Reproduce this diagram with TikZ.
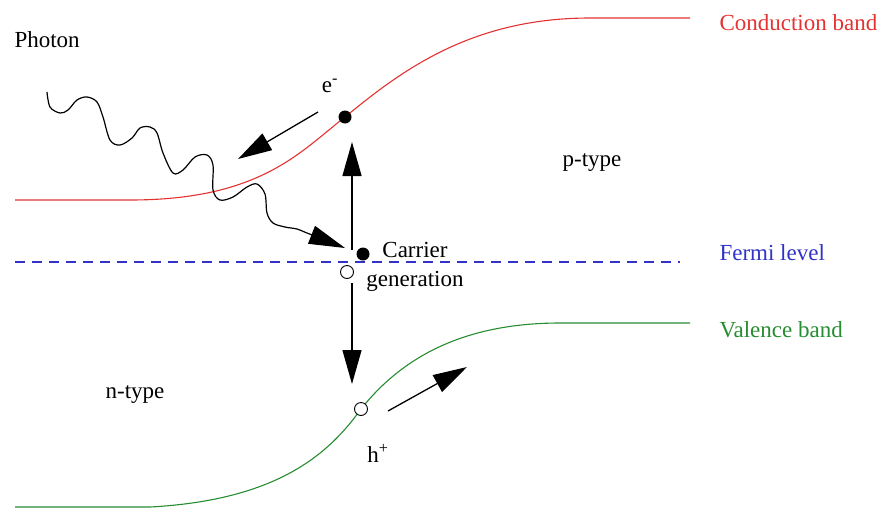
\documentclass[tikz,border=0pt]{standalone}
\usepackage{fontspec}
\setmainfont{Liberation Serif}
\usetikzlibrary{arrows.meta}
\definecolor{cbred}{RGB}{228,50,50}
\definecolor{fermiblue}{RGB}{50,50,200}
\definecolor{vbgreen}{RGB}{40,140,50}

\begin{document}
\begin{tikzpicture}[x=1pt, y=-1pt, every node/.style={font=\fontsize{23}{29}\selectfont},
	band/.style={line width=1.1pt},
	bigarrow/.style={line width=1.3pt, -{Triangle[length=34pt,width=19pt]}},
	fulldot/.style={circle, fill=black, inner sep=0pt, minimum size=13pt},
	opendot/.style={circle, draw=black, fill=white, line width=0.9pt, inner sep=0pt, minimum size=13pt}]
	\useasboundingbox (0,0) rectangle (883,512);
	% bands
	\draw[band, cbred] (15,200) -- (130,200) .. controls (260,200) and (300,152) .. (345,117)
		.. controls (400,72) and (470,18) .. (590,18) -- (690,18);
	\draw[band, fermiblue, dash pattern=on 10pt off 7pt] (15,262) -- (680,262);
	\draw[band, vbgreen] (15,507) -- (150,507) .. controls (280,500) and (330,452) .. (361,409)
		.. controls (400,360) and (460,323) .. (560,323) -- (690,323);
	\node[cbred, anchor=west] (cblabel) at (716,23) {Conduction band};
	\node[fermiblue, anchor=west] (fermilabel) at (716,253) {Fermi level};
	\node[vbgreen, anchor=west] (vblabel) at (716,330) {Valence band};
	\node (ptype) at (592,163) {p-type};
	\node (ntype) at (135,394) {n-type};
	% carriers
	\node[fulldot] (e) at (345,117) {};
	\node[fulldot] (gen) at (363,254) {};
	\node[opendot] (genhole) at (347,272) {};
	\node[opendot] (h) at (361,409) {};
	\node (elabel) at (330,86) {e\textsuperscript{-}};
	\node (hlabel) at (378,453) {h\textsuperscript{+}};
	\node[align=center] (genlabel) at (415,267) {Carrier\\generation};
	% photon
	\node[anchor=west] (photonlabel) at (11,40) {Photon};
	\coordinate (photonend) at (345,248);
	\draw[line width=1.2pt, -{Triangle[length=36pt,width=19pt]}] plot[smooth, tension=0.55] coordinates {
		(47,92) (50,107) (60,113) (68,110) (77,100) (87,97) (97,102) (103,117) (110,140) (120,145)
		(132,138) (140,128) (150,127) (157,133) (163,153) (173,173) (183,170) (195,157) (207,155)
		(213,165) (213,190) (220,200) (233,197) (247,187) (257,184) (265,194) (267,213) (273,223)
		(285,227) (297,229) (307,233) (photonend)};
	% arrows
	\coordinate (eto) at (238,159);
	\coordinate (hto) at (467,367);
	\coordinate (upfrom) at (352,250);
	\coordinate (upto) at (352,142);
	\coordinate (downfrom) at (352,283);
	\coordinate (downto) at (352,384);
	\draw[bigarrow] ([xshift=-27pt,yshift=5pt]e.center) -- (eto);
	\draw[bigarrow] ([xshift=27pt,yshift=-2pt]h.center) -- (hto);
	\draw[bigarrow] (upfrom) -- (upto);
	\draw[bigarrow] (downfrom) -- (downto);
\end{tikzpicture}
\end{document}
